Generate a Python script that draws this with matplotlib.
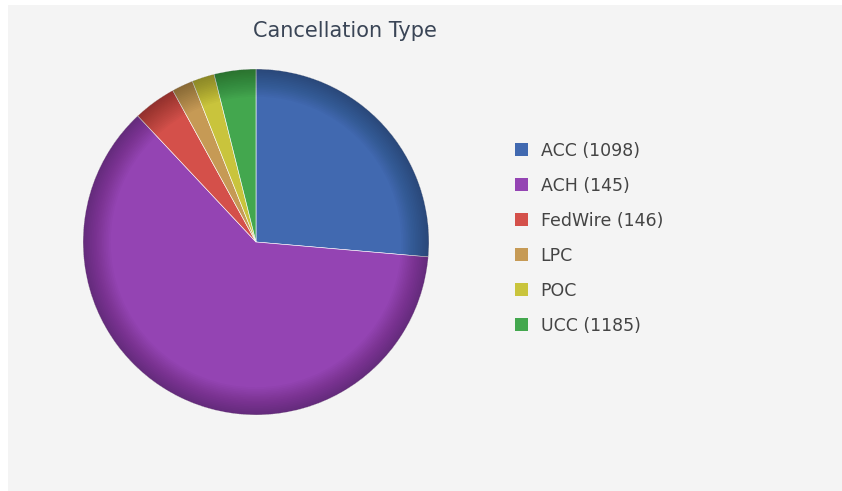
import numpy as np
import matplotlib
matplotlib.use("Agg")
import matplotlib.pyplot as plt
from matplotlib.patches import Rectangle, Wedge

plt.rcParams['font.family'] = ['DejaVu Sans']

# 조각 크기는 그림에서 읽은 값 (%)
labels = ["ACC (1098)", "ACH (145)", "FedWire (146)", "LPC", "POC", "UCC (1185)"]
shares = [26.4, 61.7, 4.0, 2.0, 2.1, 3.9]
colors = ["#4169B0", "#9444B3", "#D4504A", "#C69A55", "#C9C43C", "#43A74E"]

W, H = 842, 491
fig = plt.figure(figsize=(W / 100, H / 100), dpi=100)
fig.patch.set_facecolor("white")
fig.patches.append(Rectangle((8 / W, 0), 1 - 8 / W, 1 - 5 / H,
                             transform=fig.transFigure, facecolor="#F4F4F4",
                             edgecolor="none", zorder=-5))

cx, cy, r = 256, 242, 173
ax = fig.add_axes([(cx - r) / W, (H - cy - r) / H, 2 * r / W, 2 * r / H])
ax.axis("off")

wedges, _ = ax.pie(shares, colors=colors, startangle=90, counterclock=False,
                   radius=1, wedgeprops=dict(edgecolor="white", linewidth=0.4))
ax.set_xlim(-1, 1)
ax.set_ylim(-1, 1)
ax.set_aspect("auto")

# 가장자리 어두운 그라데이션
n = 16
for i in range(n):
    rin = 0.84 + 0.16 * i / n
    ax.add_patch(Wedge((0, 0), 1.0, 0, 360, width=1.0 - rin,
                       facecolor="black", alpha=0.02, edgecolor="none"))

fig.text(345 / W, 1 - 31 / H, "Cancellation Type", ha="center", va="center",
         fontsize=15, color="#3A4556")

leg = fig.legend(wedges, labels, loc="upper left",
                 bbox_to_anchor=(499 / W, 1 - 126 / H), frameon=False,
                 fontsize=12.5, labelcolor="#444444", handlelength=0.75,
                 handleheight=0.75, handletextpad=0.75, labelspacing=0.98)
for h in leg.legend_handles:
    h.set_edgecolor("none")

fig.savefig("out.png", dpi=100)
